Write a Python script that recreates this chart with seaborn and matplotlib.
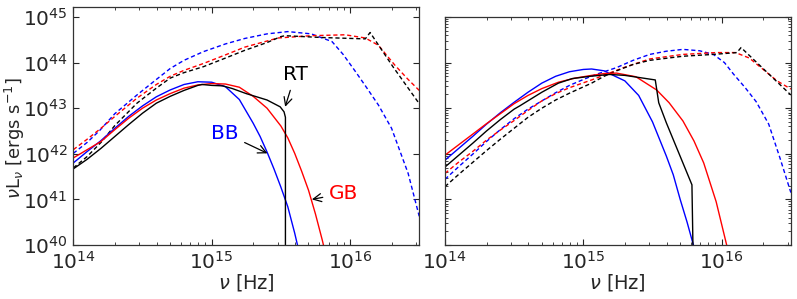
import numpy as np
import matplotlib
matplotlib.use("Agg")
import matplotlib.pyplot as plt
from matplotlib.ticker import LogLocator
import seaborn as sns

# values, as log10(nu [Hz]) and log10(nu L_nu [erg/s])
# left panel
left_bb_x = [14.0, 14.1, 14.2, 14.3, 14.4, 14.5, 14.6, 14.7, 14.8, 14.9, 15.0, 15.1, 15.2, 15.3, 15.35, 15.4, 15.45, 15.5, 15.55, 15.6, 15.62]
left_bb_y = [41.8, 42.05, 42.29, 42.56, 42.82, 43.05, 43.25, 43.4, 43.52, 43.58, 43.57, 43.47, 43.19, 42.67, 42.38, 42.04, 41.67, 41.27, 40.84, 40.26, 40.0]
left_gb_x = [14.0, 14.1, 14.2, 14.3, 14.4, 14.5, 14.6, 14.7, 14.8, 14.9, 15.0, 15.1, 15.2, 15.3, 15.4, 15.5, 15.55, 15.6, 15.65, 15.7, 15.75, 15.8, 15.82]
left_gb_y = [41.91, 42.09, 42.27, 42.53, 42.78, 43.0, 43.18, 43.32, 43.44, 43.51, 43.54, 43.53, 43.46, 43.26, 43.0, 42.61, 42.35, 42.01, 41.62, 41.2, 40.68, 40.1, 39.84]
left_rt_x = [14.0, 14.1, 14.2, 14.3, 14.4, 14.5, 14.6, 14.7, 14.8, 14.9, 14.93, 15.0, 15.08, 15.15, 15.25, 15.4, 15.495, 15.523, 15.533, 15.533]
left_rt_y = [41.67, 41.88, 42.12, 42.38, 42.64, 42.89, 43.11, 43.26, 43.39, 43.5, 43.52, 43.5, 43.49, 43.43, 43.32, 43.18, 43.03, 42.92, 42.8, 39.0]
left_bb_d_x = [14.0, 14.1, 14.19, 14.3, 14.46, 14.6, 14.7, 14.8, 14.94, 15.1, 15.24, 15.4, 15.55, 15.72, 15.87, 15.95, 16.04, 16.12, 16.205, 16.3, 16.42, 16.5]
left_bb_d_y = [42.01, 42.25, 42.51, 42.88, 43.29, 43.63, 43.87, 44.05, 44.24, 44.41, 44.53, 44.63, 44.68, 44.63, 44.46, 44.18, 43.8, 43.45, 43.07, 42.56, 41.57, 40.63]
left_gb_d_x = [14.0, 14.1, 14.2, 14.3, 14.46, 14.6, 14.7, 14.8, 14.94, 15.1, 15.24, 15.48, 15.72, 15.965, 16.11, 16.205, 16.325, 16.42, 16.5]
left_gb_d_y = [42.09, 42.32, 42.56, 42.82, 43.22, 43.52, 43.7, 43.83, 43.98, 44.17, 44.34, 44.54, 44.59, 44.61, 44.54, 44.38, 43.94, 43.63, 43.39]
left_rt_d_x = [14.0, 14.1, 14.2, 14.3, 14.46, 14.6, 14.7, 14.8, 14.94, 15.1, 15.24, 15.4, 15.5, 15.53, 15.8, 16.11, 16.145, 16.31, 16.5]
left_rt_d_y = [41.69, 41.94, 42.25, 42.62, 43.11, 43.44, 43.66, 43.78, 43.91, 44.1, 44.27, 44.44, 44.57, 44.59, 44.55, 44.52, 44.66, 43.91, 43.1]

# right panel
right_bb_x = [14.0, 14.1, 14.2, 14.3, 14.4, 14.5, 14.6, 14.7, 14.8, 14.9, 15.0, 15.06, 15.15, 15.23, 15.3, 15.4, 15.5, 15.6, 15.65, 15.7, 15.75, 15.8]
right_bb_y = [41.86, 42.12, 42.38, 42.65, 42.9, 43.13, 43.35, 43.55, 43.7, 43.8, 43.85, 43.86, 43.82, 43.7, 43.6, 43.28, 42.7, 41.95, 41.54, 41.0, 40.5, 39.95]
right_gb_x = [14.0, 14.1, 14.2, 14.3, 14.4, 14.5, 14.6, 14.7, 14.82, 14.94, 15.06, 15.15, 15.24, 15.38, 15.53, 15.62, 15.72, 15.8, 15.87, 15.96, 16.0, 16.04]
right_gb_y = [41.97, 42.2, 42.43, 42.66, 42.88, 43.1, 43.28, 43.43, 43.57, 43.66, 43.72, 43.76, 43.77, 43.69, 43.4, 43.12, 42.72, 42.28, 41.8, 40.95, 40.45, 39.95]
right_rt_x = [14.0, 14.1, 14.2, 14.3, 14.4, 14.5, 14.54, 14.7, 14.82, 14.92, 15.05, 15.19, 15.3, 15.52, 15.53, 15.545, 15.6, 15.785, 15.795]
right_rt_y = [41.71, 41.97, 42.23, 42.5, 42.75, 42.98, 43.05, 43.35, 43.55, 43.65, 43.7, 43.74, 43.72, 43.62, 43.42, 43.12, 42.68, 41.32, 39.5]
right_bb_d_x = [14.0, 14.1, 14.2, 14.3, 14.4, 14.5, 14.6, 14.7, 14.8, 14.9, 15.0, 15.1, 15.24, 15.36, 15.48, 15.6, 15.72, 15.84, 15.94, 16.02, 16.085, 16.17, 16.25, 16.34, 16.42, 16.5]
right_bb_d_y = [41.44, 41.72, 41.99, 42.27, 42.53, 42.77, 42.98, 43.16, 43.34, 43.5, 43.63, 43.75, 43.89, 44.05, 44.18, 44.25, 44.29, 44.26, 44.18, 44.0, 43.75, 43.45, 43.14, 42.65, 41.92, 41.15]
right_gb_d_x = [14.0, 14.1, 14.2, 14.3, 14.4, 14.5, 14.6, 14.7, 14.8, 14.9, 15.06, 15.18, 15.3, 15.48, 15.72, 15.96, 16.1, 16.2, 16.3, 16.4, 16.5]
right_gb_d_y = [41.57, 41.82, 42.05, 42.3, 42.52, 42.73, 42.95, 43.16, 43.32, 43.45, 43.62, 43.76, 43.9, 44.08, 44.18, 44.22, 44.22, 44.1, 43.85, 43.6, 43.42]
right_rt_d_x = [14.0, 14.1, 14.2, 14.3, 14.4, 14.5, 14.6, 14.7, 14.8, 14.9, 15.06, 15.15, 15.24, 15.36, 15.48, 15.72, 15.94, 16.11, 16.14, 16.5]
right_rt_d_y = [41.28, 41.55, 41.81, 42.07, 42.32, 42.56, 42.8, 43.0, 43.18, 43.33, 43.55, 43.7, 43.82, 43.96, 44.05, 44.14, 44.18, 44.22, 44.33, 43.29]

sns.set_style("ticks")
plt.rcParams["font.family"] = ["DejaVu Sans"]
plt.rcParams["xtick.direction"] = "in"
plt.rcParams["ytick.direction"] = "in"
plt.rcParams["xtick.top"] = True
plt.rcParams["ytick.right"] = True

fig = plt.figure(figsize=(7.97, 2.99), dpi=100)
ax1 = fig.add_axes([0.092, 0.1806, 0.434, 0.797])
ax2 = fig.add_axes([0.5583, 0.1806, 0.434, 0.7625])

dash = (0, (3, 2))


def draw(ax, x, y, color, ls):
    sns.lineplot(x=10 ** np.array(x), y=10 ** np.array(y), ax=ax, color=color,
                 lw=1.0, linestyle=ls, estimator=None, sort=False)


for ax in (ax1, ax2):
    ax.set_xscale("log")
    ax.set_yscale("log")

draw(ax1, left_bb_d_x, left_bb_d_y, "b", dash)
draw(ax1, left_gb_d_x, left_gb_d_y, "r", dash)
draw(ax1, left_rt_d_x, left_rt_d_y, "k", dash)
draw(ax1, left_bb_x, left_bb_y, "b", "-")
draw(ax1, left_gb_x, left_gb_y, "r", "-")
draw(ax1, left_rt_x, left_rt_y, "k", "-")

draw(ax2, right_bb_d_x, right_bb_d_y, "b", dash)
draw(ax2, right_gb_d_x, right_gb_d_y, "r", dash)
draw(ax2, right_rt_d_x, right_rt_d_y, "k", dash)
draw(ax2, right_bb_x, right_bb_y, "b", "-")
draw(ax2, right_gb_x, right_gb_y, "r", "-")
draw(ax2, right_rt_x, right_rt_y, "k", "-")

ax1.set_xlim(1e14, 10 ** 16.5)
ax2.set_xlim(1e14, 10 ** 16.5)
ax1.set_ylim(1e40, 10 ** 45.226)
ax2.set_ylim(1e40, 1e45)

for ax in (ax1, ax2):
    ax.xaxis.set_major_locator(LogLocator(base=10, numticks=20))
    ax.yaxis.set_major_locator(LogLocator(base=10, numticks=20))
    ax.tick_params(which="major", length=4, width=0.8, labelsize=14.5, pad=4)
    ax.tick_params(which="minor", length=2, width=0.6)
    for s in ax.spines.values():
        s.set_linewidth(0.9)
        s.set_color("#333333")
    ax.set_xlabel(r"$\nu$ [Hz]", fontsize=14, labelpad=0)
ax2.tick_params(labelleft=False)
ax1.set_ylabel(r"$\nu \mathrm{L}_\nu$ [ergs s$^{-1}$]", fontsize=13)
ax1.yaxis.set_label_coords(-0.135, 0.45)

arrow = dict(arrowstyle="->", color="k", lw=0.9, shrinkA=2, shrinkB=0)
ax1.annotate("RT", xy=(10 ** 15.531, 10 ** 43.03), xytext=(10 ** 15.603, 10 ** 43.73),
             color="k", fontsize=14.5, ha="center", va="center", arrowprops=arrow)
ax1.annotate("BB", xy=(10 ** 15.403, 10 ** 42.01), xytext=(10 ** 15.097, 10 ** 42.45),
             color="b", fontsize=14.5, ha="center", va="center", arrowprops=arrow)
ax1.annotate("GB", xy=(10 ** 15.724, 10 ** 41.0), xytext=(10 ** 15.952, 10 ** 41.13),
             color="r", fontsize=14.5, ha="center", va="center", arrowprops=arrow)

fig.savefig("out.png", dpi=100)
